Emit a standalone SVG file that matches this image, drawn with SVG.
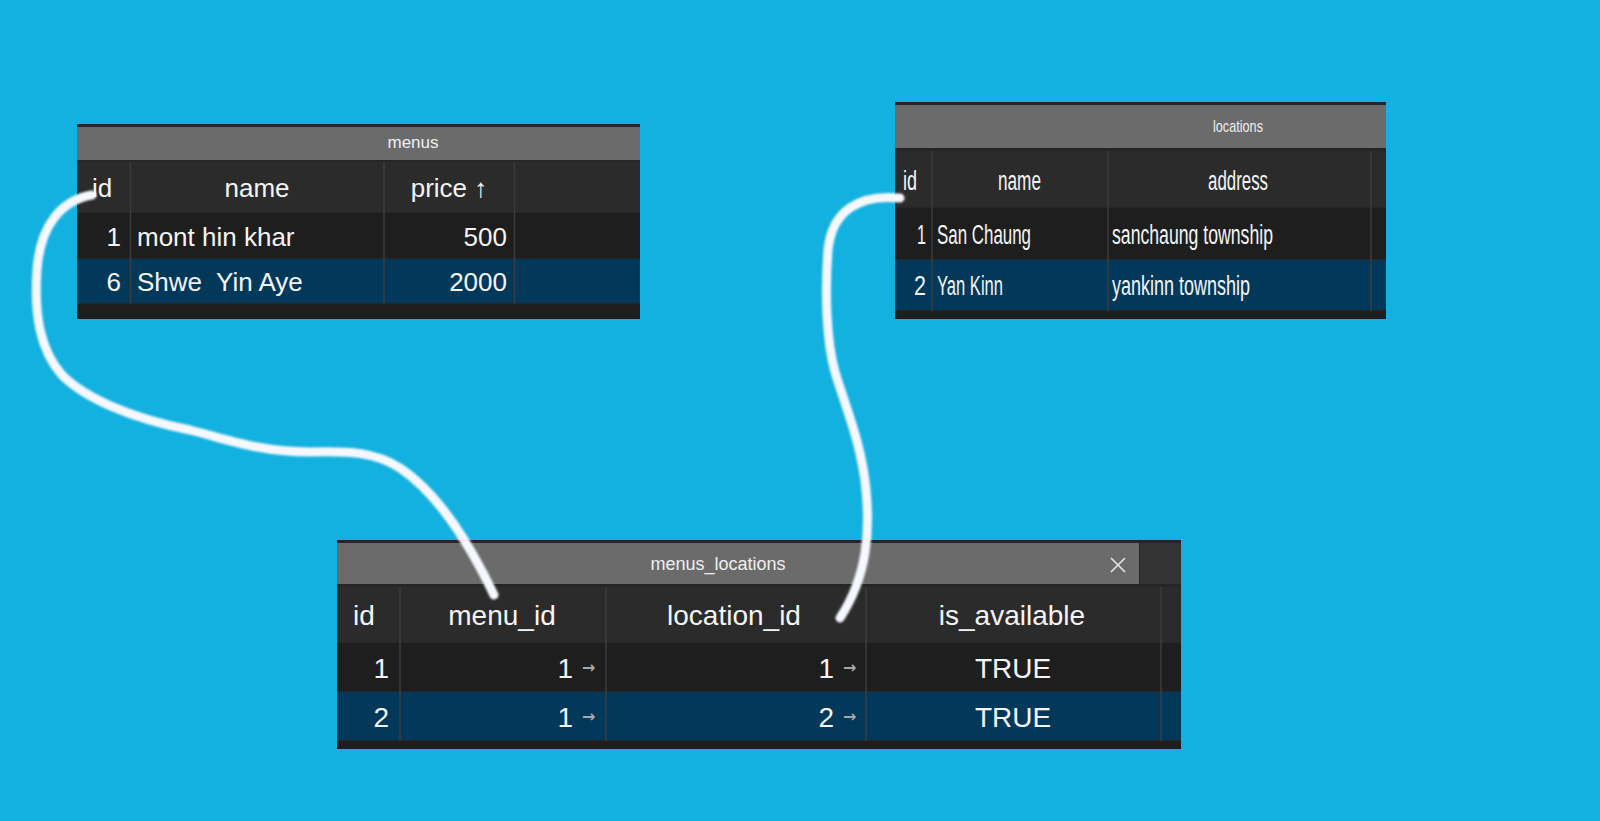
<svg xmlns="http://www.w3.org/2000/svg" width="1600" height="821" viewBox="0 0 1600 821">
<defs>
<style>
.t{font-family:"Liberation Sans",Arial,sans-serif;fill:#f4f4f4}
.ttl{font-size:17px;text-anchor:middle;fill:#efefef}
.m{font-size:26px}
.ml{font-size:28px}
.lc{font-size:27px}
.c{text-anchor:middle}
.e{text-anchor:end}
.arr{font-family:"DejaVu Sans",sans-serif;font-size:16px;font-weight:bold;fill:#a8a8a8}
.title{fill:#6b6b6b}
.hdr{fill:#2b2b2b}
.r1{fill:#1e1e1e}
.r2{fill:#02395b}
.frame{fill:#262626}
.grid{stroke:#3c3c3c;stroke-width:1.5}
.link{fill:none;stroke:#f6f8ff;stroke-width:9;stroke-linecap:round;stroke-linejoin:round}
</style>
<filter id="soft" x="-10%" y="-10%" width="120%" height="120%">
<feGaussianBlur stdDeviation="1.2"/>
</filter>
</defs>
<rect x="0" y="0" width="1600" height="821" fill="#13b1df"/>

<g id="menus">
<rect class="frame" x="77" y="124" width="563" height="195"/>
<rect class="title" x="77" y="127" width="563" height="33"/>
<rect class="hdr" x="77" y="162" width="563" height="50"/>
<rect class="r1" x="77" y="213" width="563" height="45"/>
<rect class="r2" x="77" y="259" width="563" height="44"/>
<rect class="r1" x="77" y="304" width="563" height="15"/>
<line class="grid" x1="130.5" y1="162" x2="130.5" y2="304"/>
<line class="grid" x1="384" y1="162" x2="384" y2="304"/>
<line class="grid" x1="514.5" y1="162" x2="514.5" y2="304"/>
<text class="t ttl" x="413" y="148">menus</text>
<text class="t m" x="92" y="197">id</text>
<text class="t m c" x="257" y="197">name</text>
<text class="t m c" x="449" y="197">price ↑</text>
<text class="t m e" x="121" y="246">1</text>
<text class="t m" x="137" y="246">mont hin khar</text>
<text class="t m e" x="507" y="246">500</text>
<text class="t m e" x="121" y="291">6</text>
<text class="t m" x="137" y="291" xml:space="preserve">Shwe  Yin Aye</text>
<text class="t m e" x="507" y="291">2000</text>
</g>

<g id="locations">
<rect class="frame" x="895" y="102" width="491" height="217"/>
<rect class="title" x="895" y="105" width="491" height="43"/>
<rect class="hdr" x="895" y="151" width="491" height="56"/>
<rect class="r1" x="895" y="208" width="491" height="51"/>
<rect class="r2" x="895" y="260" width="491" height="50"/>
<rect class="r1" x="895" y="311" width="491" height="8"/>
<line class="grid" x1="932" y1="151" x2="932" y2="311"/>
<line class="grid" x1="1108" y1="151" x2="1108" y2="311"/>
<line class="grid" x1="1371" y1="151" x2="1371" y2="311"/>
<text class="t ttl" x="1238" y="132" textLength="50" lengthAdjust="spacingAndGlyphs">locations</text>
<text class="t lc" x="903" y="190" textLength="14" lengthAdjust="spacingAndGlyphs">id</text>
<text class="t lc" x="998" y="190" textLength="43" lengthAdjust="spacingAndGlyphs">name</text>
<text class="t lc" x="1208" y="190" textLength="60" lengthAdjust="spacingAndGlyphs">address</text>
<text class="t lc" x="917" y="244" textLength="9" lengthAdjust="spacingAndGlyphs">1</text>
<text class="t lc" x="937" y="244" textLength="94" lengthAdjust="spacingAndGlyphs">San Chaung</text>
<text class="t lc" x="1112" y="244" textLength="161" lengthAdjust="spacingAndGlyphs">sanchaung township</text>
<text class="t lc" x="914" y="295" textLength="12" lengthAdjust="spacingAndGlyphs">2</text>
<text class="t lc" x="937" y="295" textLength="66" lengthAdjust="spacingAndGlyphs">Yan Kinn</text>
<text class="t lc" x="1112" y="295" textLength="138" lengthAdjust="spacingAndGlyphs">yankinn township</text>
</g>

<g id="menus_locations">
<rect class="frame" x="337" y="540" width="844" height="209"/>
<rect class="title" x="337" y="543" width="802" height="41"/>
<rect fill="#333333" x="1140" y="543" width="41" height="41"/>
<rect class="hdr" x="337" y="587" width="844" height="55"/>
<rect class="r1" x="337" y="643" width="844" height="48"/>
<rect class="r2" x="337" y="692" width="844" height="48"/>
<rect class="r1" x="337" y="741" width="844" height="8"/>
<line class="grid" x1="400" y1="587" x2="400" y2="741"/>
<line class="grid" x1="606" y1="587" x2="606" y2="741"/>
<line class="grid" x1="866" y1="587" x2="866" y2="741"/>
<line class="grid" x1="1161" y1="587" x2="1161" y2="741"/>
<text class="t ttl" x="718" y="570" style="font-size:18px">menus_locations</text>
<g stroke="#e0e0e0" stroke-width="1.7">
<line x1="1111" y1="558" x2="1125" y2="572"/>
<line x1="1125" y1="558" x2="1111" y2="572"/>
</g>
<text class="t ml c" x="364" y="625">id</text>
<text class="t ml c" x="502" y="625">menu_id</text>
<text class="t ml c" x="734" y="625">location_id</text>
<text class="t ml c" x="1012" y="625">is_available</text>
<text class="t ml e" x="389" y="678">1</text>
<text class="t ml e" x="573" y="678">1</text>
<text class="arr" x="582" y="673">→</text>
<text class="t ml e" x="834" y="678">1</text>
<text class="arr" x="843" y="673">→</text>
<text class="t ml c" x="1013" y="678">TRUE</text>
<text class="t ml e" x="389" y="727">2</text>
<text class="t ml e" x="573" y="727">1</text>
<text class="arr" x="582" y="722">→</text>
<text class="t ml e" x="834" y="727">2</text>
<text class="arr" x="843" y="722">→</text>
<text class="t ml c" x="1013" y="727">TRUE</text>
</g>

<g id="connectors" filter="url(#soft)">
<path class="link" d="M 92 195 C 62 200, 40 225, 37 270 C 34 315, 40 350, 62 375 C 85 398, 130 418, 190 430 C 230 440, 260 452, 310 452 C 350 451, 375 452, 400 468 C 440 495, 470 545, 494 595"/>
<path class="link" d="M 900 198 C 860 194, 832 210, 828 250 C 825 290, 826 340, 835 372 C 845 405, 862 445, 866 490 C 870 530, 868 575, 840 618"/>
</g>
</svg>
